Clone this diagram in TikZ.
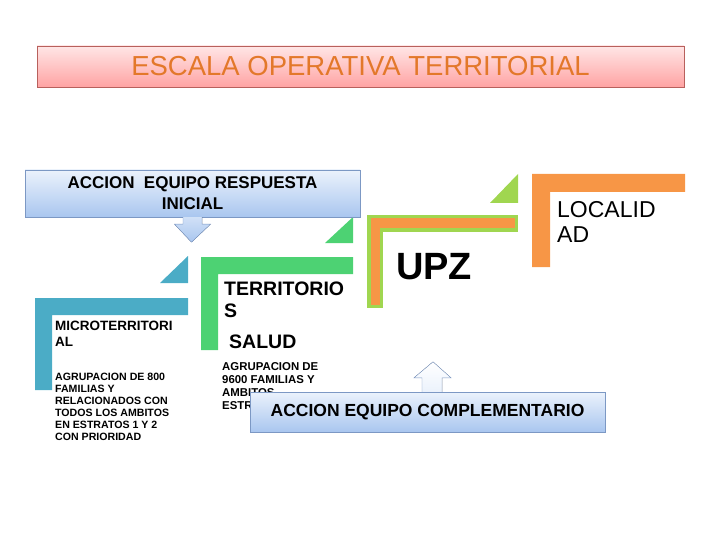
\documentclass[tikz,border=0pt]{standalone}
\usepackage{fontspec}
\setmainfont{Liberation Sans}
\usepackage{tikz}
\usetikzlibrary{positioning,calc}

\definecolor{tealbar}{HTML}{4BACC6}
\definecolor{greenbar}{HTML}{4DD273}
\definecolor{orangebar}{HTML}{F79646}
\definecolor{limebar}{HTML}{A0D650}
\definecolor{titletext}{HTML}{E3782A}
\definecolor{titleedge}{HTML}{B8605C}
\definecolor{titletop}{HTML}{FFE6E6}
\definecolor{titlebottom}{HTML}{FFA3A3}
\definecolor{boxedge}{HTML}{7C98C4}
\definecolor{boxtop}{HTML}{EBF2FC}
\definecolor{boxbottom}{HTML}{A9C6EF}

\begin{document}
\begin{tikzpicture}[x=1pt, y=-1pt,
    titlebox/.style={rectangle, draw=titleedge, top color=titletop, bottom color=titlebottom, minimum width=647pt, minimum height=41pt, inner sep=0pt, text=titletext, font=\fontsize{27.5}{30}\selectfont},
    actionbox/.style={rectangle, draw=boxedge, top color=boxtop, bottom color=boxbottom, inner sep=0pt, align=center},
    blockarrow/.style={draw=boxedge, line join=miter},
    label/.style={anchor=base west, inner sep=0pt, align=left}
]
    \useasboundingbox (0,0) rectangle (720,540);

    % Titulo
    \node[titlebox] (titulo) at (360.5,66.5) {ESCALA OPERATIVA TERRITORIAL};

    % Escuadras (color/izq/arriba/der/abajo/grosor)
    \foreach \c/\l/\t/\r/\b/\g in {tealbar/35/298/188/390/17, greenbar/201/257/353/350/17, orangebar/532/174/685/267/18} {
        \fill[\c] (\l,\t) -- (\r,\t) -- (\r,\t+\g) -- (\l+\g,\t+\g) -- (\l+\g,\b) -- (\l,\b) -- cycle;
    }
    \filldraw[fill=orangebar, draw=limebar, line width=3.5pt, line join=miter]
        (368.75,216.75) -- (516.25,216.75) -- (516.25,230.25) -- (381.25,230.25) -- (381.25,306.25) -- (368.75,306.25) -- cycle;

    % Triangulos
    \foreach \c/\x/\y/\h in {tealbar/188/283/27, greenbar/353/243/26, limebar/518/203/29} {
        \fill[\c] (\x-28,\y) -- (\x,\y) -- (\x,\y-\h) -- cycle;
    }

    % Textos de las escalas (base = ultima linea)
    \node[label, font=\bfseries\fontsize{13.5}{16}\selectfont] (micro) at (55,346) {MICROTERRITORI\\AL};
    \node[label, font=\bfseries\fontsize{10.6}{12}\selectfont] (microdesc) at (55,440)
        {AGRUPACION DE 800\\FAMILIAS  Y\\RELACIONADOS CON\\TODOS LOS  AMBITOS\\EN  ESTRATOS 1 Y 2\\CON PRIORIDAD};
    \node[label, font=\bfseries\fontsize{19.5}{22}\selectfont] (terr) at (224,317) {TERRITORIO\\S};
    \node[label, font=\bfseries\fontsize{19.5}{22}\selectfont] (salud) at (229,348) {SALUD};
    \node[label, font=\bfseries\fontsize{11.4}{13}\selectfont] (terrdesc) at (222,409)
        {AGRUPACION DE\\9600 FAMILIAS Y\\AMBITOS\\ESTRATOS};
    \node[label, font=\bfseries\fontsize{38}{40}\selectfont] (upz) at (396,279) {UPZ};
    \node[label, font=\fontsize{23}{25}\selectfont] (localidad) at (557,243) {LOCALID\\AD};

    % Accion inicial
    \node[actionbox, minimum width=335pt, minimum height=47pt, font=\bfseries\fontsize{17}{21}\selectfont] (inicial) at (192.5,193.5)
        {ACCION \ EQUIPO RESPUESTA\\INICIAL};
    \filldraw[blockarrow, top color=boxtop!60!boxbottom, bottom color=boxbottom]
        ($(inicial.south)+(-9.5,0)$) -- ++(0,7) -- ++(-8.5,0) -- ($(inicial.south)+(-1,25)$)
        -- ($(inicial.south)+(18,7)$) -- ++(-8.5,0) -- ++(0,-7);

    % Accion complementaria
    \node[actionbox, minimum width=355pt, minimum height=40pt, font=\bfseries\fontsize{17.5}{20}\selectfont] (compl) at (427.5,412)
        {ACCION EQUIPO COMPLEMENTARIO};
    \filldraw[blockarrow, top color=white, bottom color=boxtop]
        ($(compl.north)+(-5.5,0)$) -- ++(0,-14) -- ++(-8,0) -- ($(compl.north)+(5.5,-30)$)
        -- ($(compl.north)+(23.5,-14)$) -- ++(-9,0) -- ++(0,14);
\end{tikzpicture}
\end{document}
